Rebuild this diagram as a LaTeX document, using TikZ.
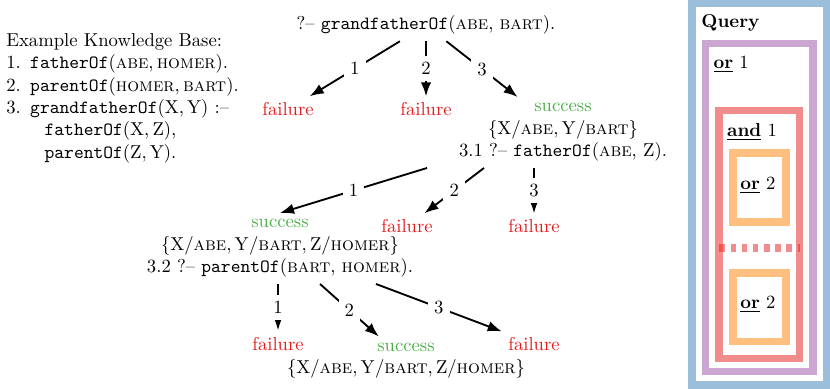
\documentclass[tikz,border=0pt]{standalone}
\usepackage{amsmath,amssymb}
\usepackage{tikz}
\usepackage{xcolor}
\usetikzlibrary{arrows.meta,calc}

\definecolor{setred}{RGB}{228,26,28}
\definecolor{setblue}{RGB}{55,126,184}
\definecolor{setgreen}{RGB}{77,175,74}
\definecolor{setpurple}{RGB}{152,78,163}
\definecolor{setorange}{RGB}{255,127,0}

\newcommand{\pred}[1]{\texttt{#1}}
\newcommand{\atom}[1]{\textsc{#1}}
\newcommand{\var}[1]{\mathrm{#1}}

\begin{document}
\begin{tikzpicture}[x=0.536pt,y=-0.536pt,
  goal/.style={anchor=base},
  fail/.style={anchor=base,text=setred},
  solved/.style={anchor=north,align=center},
  lbl/.style={fill=white,midway},
  arr/.style={line width=1pt,-{Latex}},
  shell/.style={draw=#1,opacity=.5,line width=4pt},
  tag/.style={anchor=base west,inner sep=0pt}]
  \useasboundingbox (0,0) rectangle (830,389);
  % Knowledge base.
  \node[anchor=north west,align=left,inner sep=0pt] (kb) at (6,33) {Example Knowledge Base:\\
    1.\enspace$\pred{fatherOf}(\atom{abe}, \atom{homer})$.\\
    2.\enspace$\pred{parentOf}(\atom{homer}, \atom{bart})$.\\
    3.\enspace$\pred{grandfatherOf}(\var{X}, \var{Y})$ :--\\
    \hspace*{20.5pt}$\pred{fatherOf}(\var{X}, \var{Z})$,\\
    \hspace*{20.5pt}$\pred{parentOf}(\var{Z}, \var{Y})$.};
  % Resolution tree.
  \node[goal] (q0) at (426,30) {?-- \pred{grandfatherOf}(\atom{abe}, \atom{bart}).};
  \node[fail] (f1) at (288,116) {failure};
  \node[fail] (f2) at (426,116) {failure};
  \node[solved] (s3) at (563,97) {\textcolor{setgreen}{success}\\
    $\{\var{X}/\atom{abe}, \var{Y}/\atom{bart}\}$\\
    3.1 ?-- \pred{fatherOf}(\atom{abe}, Z).};
  \node[solved] (s31) at (280,213) {\textcolor{setgreen}{success}\\
    $\{\var{X}/\atom{abe}, \var{Y}/\atom{bart}, \var{Z}/\atom{homer}\}$\\
    3.2 ?-- \pred{parentOf}(\atom{bart}, \atom{homer}).};
  \node[fail] (f32) at (407,233) {failure};
  \node[fail] (f33) at (534,233) {failure};
  \node[fail] (f311) at (278,350) {failure};
  \node[solved] (s312) at (406,336.5) {\textcolor{setgreen}{success}\\
    $\{\var{X}/\atom{abe}, \var{Y}/\atom{bart}, \var{Z}/\atom{homer}\}$};
  \node[fail] (f313) at (534,350) {failure};
  % Clauses tried at each goal.
  \foreach \t/\n in {f1/1,f2/2,s3/3}
    \draw[arr] (q0) -- (\t) node[lbl] {\n};
  \foreach \dx/\t/\n in {-136/s31.north/1,-79/f32/2,-29/f33/3}
    \draw[arr] ($(s3.south)+(\dx,0)$) -- (\t) node[lbl] {\n};
  \foreach \dx/\t/\n in {-2/f311/1,40/s312/2,96/f313/3}
    \draw[arr] ($(s31.south)+(\dx,0)$) -- (\t) node[lbl] {\n};
  % Nested boxes: query, or, and, or.
  \draw[shell=setblue] (692.2,3.6) rectangle (826.3,384.8);
  \draw[shell=setpurple] (705.5,43.3) rectangle (812.8,371.7);
  \draw[shell=setred] (718.8,110.5) rectangle (799.5,358.3);
  \draw[shell=setorange] (732.8,152.8) rectangle (786.2,222.2);
  \draw[shell=setorange] (732.8,272.8) rectangle (786.2,341.7);
  \draw[shell=setred,dash pattern=on 3pt off 3pt] (719.3,248) -- (799.5,248);
  \node[tag] (qry) at (701,28) {\textbf{Query}};
  \node[tag] (or1) at (713.3,68.3) {\underline{\textbf{or}} 1};
  \node[tag] (and1) at (726.7,136.7) {\underline{\textbf{and}} 1};
  \node[tag] (or2a) at (740,189.3) {\underline{\textbf{or}} 2};
  \node[tag] (or2b) at (740,308.3) {\underline{\textbf{or}} 2};
\end{tikzpicture}
\end{document}
